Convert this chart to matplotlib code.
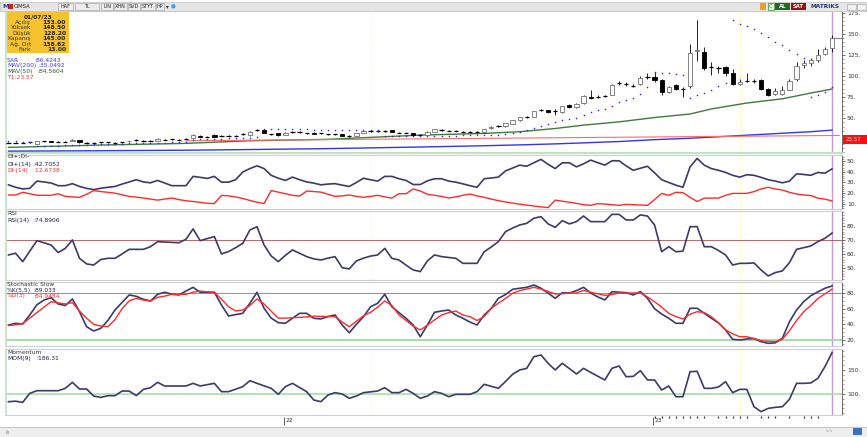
import numpy as np
import matplotlib.pyplot as plt
from matplotlib.patches import Rectangle
from matplotlib.colors import LinearSegmentedColormap
from matplotlib.ticker import MultipleLocator, FuncFormatter

W, H = 867, 437

# Weekly CIMSA bars
# ---------------------------------------------------------------
opens = [21.2, 21.0, 21.2, 21.0, 19.8, 22.5, 22.8, 22.2, 22.0, 23.5,
         24.0, 21.3, 21.0, 21.5, 21.8, 21.2, 21.0, 22.5, 23.8, 23.2,
         23.0, 23.0, 24.8, 24.7, 24.8, 25.3, 26.0, 29.2, 28.0, 30.0,
         29.0, 29.2, 29.0, 30.8, 30.0, 35.8, 36.0, 31.2, 32.0, 30.0,
         33.3, 33.7, 32.2, 33.0, 31.8, 31.0, 31.2, 31.0, 29.0, 29.0,
         33.0, 34.0, 34.5, 35.0, 36.0, 33.2, 32.8, 32.0, 30.0, 30.3,
         34.0, 36.2, 35.3, 35.5, 34.3, 33.7, 33.5, 33.5, 38.0, 40.3,
         40.5, 43.5, 47.6, 51.3, 51.5, 59.0, 59.4, 58.4, 57.0, 66.0,
         63.0, 67.5, 75.0, 75.5, 76.0, 78.0, 91.0, 90.2, 88.3, 90.0,
         98.6, 99.0, 95.0, 80.5, 89.0, 85.2, 88.0, 129.5, 129.0, 110.0,
         110.0, 111.0, 104.0, 91.0, 94.5, 94.0, 95.0, 85.0, 78.5, 78.5,
         84.0, 96.0, 112.5, 115.0, 119.0, 126.0, 133.0]
highs = [21.8, 21.8, 21.8, 21.8, 23.0, 23.5, 23.2, 22.6, 22.8, 24.8,
         24.5, 21.8, 21.7, 22.3, 22.3, 21.7, 21.8, 23.6, 24.8, 23.8,
         23.7, 26.0, 25.3, 25.4, 25.3, 26.2, 30.8, 30.0, 28.8, 30.8,
         29.8, 29.8, 29.9, 32.0, 34.8, 37.0, 36.8, 31.8, 32.6, 33.6,
         34.3, 34.3, 32.8, 33.6, 32.7, 31.8, 31.8, 31.6, 29.6, 33.0,
         35.0, 35.2, 35.6, 35.6, 36.6, 33.8, 33.4, 32.6, 30.9, 34.6,
         37.8, 37.0, 36.0, 36.2, 35.0, 34.4, 34.4, 37.6, 40.8, 41.5,
         44.8, 48.4, 51.8, 52.8, 58.8, 61.5, 60.3, 60.5, 64.8, 67.0,
         67.5, 77.0, 84.0, 77.5, 77.8, 90.0, 93.5, 92.5, 90.5, 99.5,
         104.0, 104.5, 96.0, 88.0, 91.0, 86.5, 138.0, 166.0, 134.0, 116.0,
         112.0, 112.0, 108.0, 96.0, 103.0, 96.0, 96.0, 86.0, 86.0, 88.0,
         96.0, 116.0, 119.0, 121.0, 132.0, 134.0, 148.5]
lows = [20.5, 20.5, 20.5, 20.5, 19.2, 22.0, 21.7, 21.5, 21.5, 23.0,
        21.0, 20.5, 20.5, 21.0, 21.0, 20.5, 20.5, 22.0, 23.3, 22.5,
        22.5, 22.6, 24.0, 24.2, 24.0, 24.8, 25.6, 27.4, 27.4, 27.6,
        28.4, 28.4, 28.5, 30.3, 29.5, 35.0, 32.0, 30.4, 29.5, 29.6,
        32.8, 32.8, 31.3, 31.0, 31.3, 30.4, 30.4, 28.6, 28.2, 28.6,
        32.6, 33.5, 34.0, 34.0, 33.5, 32.5, 32.0, 29.5, 29.6, 29.8,
        33.5, 35.4, 34.6, 34.4, 33.6, 33.0, 33.0, 33.0, 37.5, 39.8,
        40.0, 43.0, 47.0, 50.6, 51.0, 58.0, 56.3, 54.0, 56.5, 62.3,
        62.5, 67.0, 73.0, 74.5, 75.0, 77.5, 89.5, 88.5, 86.5, 89.5,
        97.0, 93.0, 77.0, 80.0, 83.0, 75.0, 86.0, 118.0, 107.0, 101.0,
        103.0, 100.0, 89.0, 89.0, 93.0, 92.0, 84.0, 76.0, 78.0, 78.0,
        83.0, 94.0, 110.0, 112.0, 117.0, 125.0, 128.2]
closes = [21.0, 21.2, 21.0, 21.3, 22.5, 23.0, 22.2, 22.0, 22.3, 24.2,
          21.5, 21.0, 21.2, 21.8, 21.6, 21.0, 21.3, 23.2, 24.2, 23.0,
          23.2, 25.5, 24.5, 24.9, 24.6, 25.7, 30.0, 28.0, 28.1, 28.2,
          29.2, 29.0, 29.3, 31.2, 34.0, 36.2, 32.7, 31.0, 30.0, 33.0,
          33.7, 33.4, 31.9, 31.5, 32.1, 31.2, 31.0, 29.0, 28.8, 32.5,
          34.5, 34.5, 35.0, 34.7, 34.0, 33.0, 32.6, 30.0, 30.3, 34.0,
          37.0, 36.0, 35.0, 35.0, 34.0, 33.5, 33.8, 37.0, 40.0, 40.8,
          44.0, 47.6, 51.0, 51.8, 58.0, 59.3, 57.0, 58.6, 64.0, 63.0,
          66.5, 76.0, 74.0, 75.7, 76.3, 89.0, 91.3, 90.0, 88.0, 98.0,
          98.9, 95.0, 81.0, 86.5, 85.0, 85.0, 127.0, 130.5, 110.0, 110.5,
          109.5, 103.0, 91.0, 93.0, 94.0, 93.5, 85.0, 78.0, 82.5, 83.0,
          93.5, 112.0, 115.5, 118.5, 125.0, 132.5, 145.0]
sar = [22.8, 22.6, 22.4, 22.2, 17.0, 17.2, 17.4, 17.6, 17.8, 18.0,
       18.3, 18.6, 18.9, 19.2, 19.5, 19.8, 20.0, 20.2, 20.4, 20.6,
       20.8, 21.0, 21.2, 21.4, 21.6, 21.8, 24.5, 24.8, 25.0, 25.3,
       25.6, 26.0, 26.3, 26.6, 27.0, 27.5, 37.5, 37.4, 37.2, 37.0,
       36.9, 36.8, 36.7, 36.6, 36.5, 36.4, 36.3, 36.2, 36.1, 36.0,
       36.0, 35.9, 35.9, 28.5, 28.6, 28.7, 28.8, 28.9, 29.0, 29.1,
       29.2, 29.3, 29.4, 29.5, 29.6, 29.7, 29.8, 30.0, 30.3, 30.6,
       30.8, 32.0, 33.9, 36.0, 38.5, 41.0, 43.7, 45.8, 48.0, 49.5,
       50.8, 53.6, 57.4, 59.4, 61.4, 64.0, 69.0, 72.0, 74.0, 79.0,
       86.8, 104.5, 104.0, 103.0, 102.0, 101.0, 74.0, 77.0, 80.0, 83.7,
       87.6, 91.5, 166.0, 162.0, 159.0, 156.0, 151.5, 146.5, 140.0, 136.7,
       130.8, 126.0, 121.4, 75.0, 78.0, 81.4, 86.4]

# moving averages / trend line, read at a few bars
ma_bars = [0, 13, 25, 34, 45, 58, 67, 72, 77, 81, 86, 91, 96, 99, 104, 109, 113, 116]
mav50 = [15.5, 18.2, 20.2, 23.3, 25.0, 30.0, 32.0, 34.0, 37.8, 41.8, 45.7, 50.8,
         55.0, 61.0, 68.0, 73.0, 79.8, 84.6]
mav200 = [11.0, 11.5, 12.1, 12.9, 14.0, 15.9, 17.4, 18.4, 19.6, 20.8, 22.4, 24.6,
          26.3, 27.6, 29.9, 32.2, 34.0, 35.9]
t1_bars = [25, 117]
t1_vals = [23.3, 29.6]

# indicators
di_plus = [27.8, 25.5, 24.0, 24.5, 31.3, 30.5, 29.5, 27.0, 27.0, 28.9,
           26.3, 24.5, 23.3, 24.6, 25.5, 26.3, 28.5, 30.5, 32.6, 30.5,
           29.7, 31.9, 29.5, 27.0, 27.0, 27.0, 35.7, 34.8, 33.8, 35.7,
           30.3, 30.3, 32.6, 39.8, 43.0, 45.6, 43.0, 36.7, 34.0, 31.9,
           35.0, 32.6, 30.5, 29.4, 27.8, 28.5, 28.9, 27.5, 26.3, 30.0,
           34.0, 32.5, 31.3, 35.7, 35.7, 33.5, 31.9, 28.1, 28.1, 31.5,
           33.5, 33.5, 31.3, 30.3, 28.7, 27.0, 25.5, 33.5, 34.2, 35.0,
           40.8, 43.5, 46.2, 45.2, 48.5, 51.6, 47.0, 43.0, 48.4, 48.4,
           44.6, 47.5, 50.9, 48.5, 46.2, 50.3, 50.3, 45.5, 41.4, 43.3,
           45.2, 39.0, 32.6, 30.0, 27.5, 25.5, 44.6, 52.5, 46.2, 43.0,
           41.4, 39.4, 36.7, 35.0, 37.3, 36.7, 34.8, 32.6, 31.3, 29.7,
           31.3, 38.1, 37.5, 36.7, 39.4, 38.7, 42.7]
di_minus = [18.3, 18.3, 20.8, 19.5, 18.0, 18.0, 18.0, 19.5, 17.0, 16.5,
            16.1, 19.0, 22.4, 21.5, 20.8, 20.0, 18.5, 17.0, 16.3, 15.5,
            14.5, 13.5, 14.5, 15.4, 14.0, 12.9, 12.2, 11.5, 10.5, 10.3,
            18.0, 17.5, 16.5, 15.0, 13.2, 11.5, 10.3, 22.4, 21.0, 19.5,
            18.0, 17.3, 22.0, 21.5, 21.0, 19.0, 17.0, 17.5, 18.3, 17.0,
            16.1, 17.0, 18.0, 16.5, 15.4, 19.5, 19.5, 24.0, 22.0, 19.0,
            18.0, 17.0, 15.5, 16.5, 18.0, 19.2, 17.5, 16.1, 14.5, 13.0,
            11.8, 10.7, 9.7, 8.8, 8.0, 7.2, 6.5, 13.5, 12.5, 11.5,
            10.5, 9.2, 8.6, 10.3, 9.8, 9.2, 8.6, 9.5, 9.2, 8.9,
            8.6, 14.0, 19.8, 18.0, 20.8, 20.5, 16.1, 12.2, 15.4, 15.4,
            15.4, 18.0, 19.8, 19.8, 19.8, 21.5, 24.0, 25.5, 24.0, 22.9,
            20.8, 19.2, 18.3, 17.8, 15.4, 14.4, 12.7]
rsi = [59.3, 60.5, 54.5, 62.0, 69.5, 68.0, 66.4, 61.0, 64.0, 70.0,
       56.9, 52.9, 52.1, 56.0, 56.9, 56.9, 60.0, 63.3, 63.3, 63.3,
       65.2, 68.8, 68.5, 68.3, 68.0, 70.5, 77.9, 69.5, 71.0, 72.4,
       60.0, 61.7, 64.5, 67.6, 77.1, 79.5, 66.4, 58.6, 54.5, 59.0,
       62.9, 60.5, 58.1, 56.5, 55.7, 57.0, 58.1, 50.2, 49.3, 55.0,
       57.0, 58.5, 59.3, 64.0, 56.9, 55.7, 52.0, 48.6, 47.4, 55.0,
       59.3, 58.1, 57.5, 56.9, 53.3, 53.3, 53.3, 61.6, 65.0, 68.8,
       75.9, 78.5, 80.7, 81.9, 85.5, 86.7, 81.5, 79.0, 83.8, 81.5,
       83.1, 87.1, 83.1, 83.1, 83.1, 88.3, 88.3, 84.3, 84.3, 87.9,
       87.1, 80.7, 61.6, 65.2, 61.6, 62.0, 79.5, 79.5, 65.2, 65.2,
       62.5, 59.3, 52.1, 53.3, 53.3, 53.6, 48.6, 44.3, 46.7, 47.9,
       53.8, 63.3, 64.5, 65.7, 68.8, 71.2, 74.9]
stoch_k = [39.2, 41.4, 40.5, 52.0, 65.0, 71.0, 74.0, 66.0, 64.0, 72.4,
           56.2, 37.1, 31.6, 35.0, 45.0, 58.3, 68.0, 77.5, 75.8, 72.0,
           69.8, 78.3, 80.9, 78.5, 77.5, 82.5, 87.2, 80.9, 80.9, 80.9,
           64.7, 50.7, 52.5, 54.1, 66.9, 80.9, 60.5, 48.0, 42.2, 41.4,
           48.0, 54.1, 54.1, 47.8, 47.0, 50.0, 52.0, 39.2, 29.4, 40.0,
           49.8, 62.5, 66.9, 78.3, 62.5, 55.0, 47.8, 39.2, 24.3, 39.2,
           55.4, 57.1, 58.3, 52.0, 47.8, 43.0, 39.2, 52.0, 60.5, 73.2,
           78.0, 84.7, 86.0, 87.2, 90.2, 86.0, 80.0, 73.2, 80.4, 80.0,
           83.0, 87.2, 80.0, 75.0, 71.1, 81.7, 81.0, 80.4, 77.5, 81.7,
           73.2, 60.0, 53.2, 47.8, 41.4, 41.4, 60.5, 60.5, 54.1, 47.8,
           42.0, 33.0, 21.0, 20.1, 21.5, 22.0, 18.0, 15.9, 16.5, 22.3,
           43.4, 58.3, 68.9, 76.5, 81.5, 86.0, 89.0]
stoch_d = [38.5, 39.5, 41.0, 48.0, 55.0, 62.0, 68.9, 67.5, 66.0, 67.7,
           57.0, 48.0, 40.0, 38.0, 37.1, 46.0, 60.0, 70.0, 73.2, 71.0,
           69.8, 74.5, 76.0, 78.3, 78.3, 78.3, 81.0, 82.5, 81.5, 80.9,
           72.0, 62.5, 57.1, 58.3, 64.0, 72.4, 66.0, 57.0, 48.0, 48.0,
           48.5, 49.0, 49.5, 50.5, 50.2, 50.0, 49.8, 43.0, 37.1, 44.0,
           51.0, 55.4, 62.0, 69.8, 64.0, 52.0, 45.0, 38.0, 32.9, 39.0,
           45.6, 52.0, 55.0, 57.1, 52.0, 49.8, 45.0, 50.0, 60.5, 67.0,
           73.0, 79.6, 83.0, 85.0, 87.2, 85.0, 82.0, 78.7, 79.0, 80.0,
           80.0, 83.3, 81.0, 79.0, 77.0, 78.0, 80.0, 80.0, 80.0, 80.0,
           75.0, 68.9, 62.0, 54.1, 50.0, 47.0, 53.0, 56.2, 55.0, 49.8,
           42.0, 33.0, 28.0, 24.3, 24.3, 22.0, 19.3, 18.5, 18.0, 21.0,
           32.0, 45.0, 56.0, 64.0, 73.0, 79.0, 84.9]
momentum = [84.0, 85.0, 82.6, 101.4, 106.9, 106.9, 106.9, 106.9, 111.8, 124.3,
            110.4, 110.4, 95.8, 93.0, 96.5, 96.5, 106.2, 106.2, 96.5, 109.7,
            113.2, 124.3, 116.7, 116.7, 116.7, 116.7, 122.2, 116.7, 119.5, 122.2,
            104.9, 104.9, 110.0, 115.3, 127.8, 122.2, 117.0, 111.8, 99.3, 115.3,
            122.2, 113.5, 104.9, 87.5, 84.0, 97.9, 102.8, 100.0, 91.0, 95.8,
            102.8, 104.5, 106.2, 113.2, 102.8, 102.8, 109.7, 101.4, 91.0, 95.8,
            104.9, 101.4, 94.4, 99.3, 99.3, 99.3, 105.0, 120.2, 116.0, 111.8,
            126.0, 141.0, 150.0, 153.5, 177.7, 181.3, 164.0, 150.0, 164.0, 153.0,
            141.7, 153.5, 145.0, 137.0, 129.2, 153.5, 158.3, 136.0, 136.7, 148.6,
            129.2, 129.2, 108.3, 116.7, 94.4, 94.4, 146.5, 147.2, 111.8, 111.8,
            114.6, 125.7, 102.8, 109.7, 109.7, 73.6, 63.2, 70.1, 72.2, 73.6,
            89.0, 122.2, 122.2, 123.0, 132.6, 156.9, 186.3]

marker_bars = [51, 103]      # yellow dotted verticals
year_bars = [39, 91]
year_labels = ['22', '23']
day_tick_bars = [91, 92, 93, 94, 95, 96, 97, 98, 100, 101, 102, 103, 104,
                 106, 107, 108, 110, 112, 113, 114]

bars = np.arange(len(closes))
last = bars[-1]

NAVY = '#3b3b6b'
RED = '#ff2a2a'
XLIM = (-0.35, 117.4)

fig = plt.figure(figsize=(W / 100, H / 100), dpi=100)
fig.patch.set_facecolor('white')


def frect(x0, y0, x1, y1, **kw):
    fig.add_artist(Rectangle((x0 / W, 1 - y1 / H), (x1 - x0) / W, (y1 - y0) / H,
                             transform=fig.transFigure, **kw))


def ftext(x, y, s, **kw):
    kw.setdefault('fontsize', 4.3)
    kw.setdefault('va', 'center')
    fig.text(x / W, 1 - y / H, s, **kw)


def panel(top, bottom, ylim, ticks, minor):
    ax = fig.add_axes([6 / W, 1 - bottom / H, (842 - 6) / W, (bottom - top) / H])
    ax.set_xlim(*XLIM)
    ax.set_ylim(*ylim)
    ax.set_xticks([])
    ax.yaxis.tick_right()
    ax.set_yticks(ticks)
    ax.yaxis.set_minor_locator(MultipleLocator(minor))
    ax.yaxis.set_major_formatter(FuncFormatter(lambda v, p: f"{v:.0f}."))
    ax.tick_params(axis='y', which='major', length=2.5, width=0.5, labelsize=4.3,
                   pad=1, colors='#333333')
    ax.tick_params(axis='y', which='minor', length=1.2, width=0.4, colors='#555555')
    ax.spines['left'].set_color('#bfe3bf')
    ax.spines['left'].set_linewidth(1.2)
    ax.spines['right'].set_color('#555555')
    ax.spines['right'].set_linewidth(0.6)
    for s in ('top', 'bottom'):
        ax.spines[s].set_color('#cfcfcf')
        ax.spines[s].set_linewidth(0.8)
    for b in marker_bars:
        ax.axvline(b, color='#ffff88', lw=0.8, ls=':', zorder=1)
    ax.axvline(last, color='#c497d6', lw=1.0, zorder=1)
    return ax


# Price panel
# ---------------------------------------------------------------
ax = panel(11, 153, (8.8, 177), [50, 75, 100, 125, 150, 175], 5)
ax.spines['bottom'].set_color('#bfe3bf')
ax.spines['bottom'].set_linewidth(1.5)
ax.plot(ma_bars, mav200, color='#3535e8', lw=1.0, zorder=2)
ax.plot(ma_bars, mav50, color='#3f7a3f', lw=1.0, zorder=2)
ax.plot(t1_bars, t1_vals, color='#ff6a6a', lw=0.8, zorder=2)
for i in bars:
    o, h, l, c = opens[i], highs[i], lows[i], closes[i]
    ax.vlines(i, l, h, color='black', lw=0.6, zorder=3)
    if abs(c - o) < 0.6:
        ax.hlines(c, i - 0.3, i + 0.3, color='black', lw=0.9, zorder=4)
    else:
        up = c > o
        ax.add_patch(Rectangle((i - 0.3, min(o, c)), 0.6, abs(c - o),
                               facecolor='white' if up else 'black',
                               edgecolor='#707070' if up else 'black',
                               lw=0.6, zorder=4))
ax.scatter(bars, sar, s=1.3, color='#2a2aff', linewidths=0, zorder=5)
ax.hlines(closes[-1], last, XLIM[1], color='#8a78c8', lw=0.8, zorder=2)

# DI panel
ax = panel(155, 209, (5.2, 55.7), [10, 20, 30, 40, 50], 2)
ax.plot(bars, di_plus, color=NAVY, lw=1.2)
ax.plot(bars, di_minus, color=RED, lw=1.0)

# RSI panel
ax = panel(211, 280, (41.4, 90.7), [50, 60, 70, 80], 2)
ax.axhline(70, color='#b05050', lw=0.6)
ax.plot(bars, rsi, color=NAVY, lw=1.2)

# Stochastic panel
ax = panel(282, 346, (12.5, 94), [20, 40, 60, 80], 5)
ax.axhline(80, color='#c06060', lw=0.6)
ax.axhline(20, color='#a9dca9', lw=1.5)
ax.plot(bars, stoch_k, color=NAVY, lw=1.2)
ax.plot(bars, stoch_d, color=RED, lw=1.0)

# Momentum panel
ax = panel(349, 415, (56.3, 193.7), [100, 150], 10)
ax.axhline(100, color='#a9dca9', lw=1.2)
ax.plot(bars, momentum, color=NAVY, lw=1.2)

# date strip
axd = fig.add_axes([6 / W, 1 - 427 / H, (842 - 6) / W, 12 / H])
axd.set_xlim(*XLIM)
axd.set_ylim(0, 1)
axd.axis('off')
for b, lab in zip(year_bars, year_labels):
    axd.vlines(b - 0.2, 0.2, 0.8, color='#444444', lw=0.6)
    axd.text(b, 0.5, lab, fontsize=4.3, va='center', color='#333333')
axd.vlines(day_tick_bars, 0.72, 0.95, color='#333333', lw=0.9)

frect(0, 427, W, H, facecolor='#eeeeee', edgecolor='none')
fig.add_artist(plt.Line2D([0, 1], [1 - 427 / H] * 2, color='#c8c8c8', lw=0.8,
                          transform=fig.transFigure))
ftext(6, 432, 'ılı', fontsize=3.5, color='#777777')
ftext(826, 431, 'ılıılı', fontsize=3, color='#999999')
frect(853, 428, 862, 435, facecolor='#3d6fc4', edgecolor='none')

# top toolbar
# ---------------------------------------------------------------
frect(0, 2, W, 10.5, facecolor='#e6e6e6', edgecolor='#c0c0c0', lw=0.5)
ftext(2, 6.3, 'M', fontsize=4.5, color='#1e3c8c', weight='bold')
frect(8, 3.5, 12.5, 8.5, facecolor='#d02020', edgecolor='none')
ftext(13.5, 6.3, 'CIMSA', fontsize=3.8, color='#222222')
for x0, x1, lab in [(58, 73, 'HAF'), (75, 99, 'TL'), (101, 113, 'LIN'),
                    (114, 127, 'XHN'), (128, 140, 'SVD'), (141, 155, 'STYT'),
                    (156, 164, 'HP')]:
    frect(x0, 3, x1, 9.5, facecolor='#ececec', edgecolor='#9a9a9a', lw=0.4)
    ftext((x0 + x1) / 2, 6.3, lab, fontsize=3.5, color='#222222', ha='center')
ftext(167, 6.3, '▾', fontsize=4, color='#333333', ha='center')
ftext(173, 6.3, '●', fontsize=4, color='#3aa0e8', ha='center')
axg = fig.add_axes([178 / W, 1 - 9.5 / H, (757 - 178) / W, 6.5 / H])
axg.imshow(np.linspace(0, 1, 256)[None, :], aspect='auto',
           cmap=LinearSegmentedColormap.from_list(
               'tb', ['#0c0c0c', '#2e2e2e', '#7a7a7a', '#d8d8d8']))
axg.axis('off')
frect(760, 3, 766, 9.5, facecolor='#f0a020', edgecolor='none')
frect(767.5, 3, 773.5, 9.5, facecolor='#e8f5e8', edgecolor='#2e8b2e', lw=0.5)
ftext(770.5, 6.3, 'C', fontsize=3.5, color='#2e8b2e', ha='center')
frect(775, 3, 790, 9.5, facecolor='#1f6e1f', edgecolor='none')
ftext(782.5, 6.3, 'AL', fontsize=3.8, color='white', ha='center', weight='bold')
frect(791, 3, 806, 9.5, facecolor='#9a1010', edgecolor='none')
ftext(798.5, 6.3, 'SAT', fontsize=3.8, color='white', ha='center', weight='bold')
ftext(825, 6.3, 'MATRIKS', fontsize=4.2, color='#2a3570', ha='center', weight='bold')
frect(847, 3.5, 856, 9.5, facecolor='#f2f2f2', edgecolor='#9a9a9a', lw=0.4)
frect(857, 3.5, 866, 9.5, facecolor='#f2f2f2', edgecolor='#9a9a9a', lw=0.4)

# legend box (last bar summary)
# ---------------------------------------------------------------
frect(7, 12.5, 68.5, 52.5, facecolor='#f7c22f', edgecolor='none')
ftext(38, 16.7, '01/07/23', fontsize=4.2, color='#222222', ha='center', weight='bold')
rows = [('Açılış', '133.00'), ('Yüksek', '148.50'), ('Düşük', '128.20'),
        ('Kapanış', '145.00'), ('Ağ. Ort', '138.62'), ('Fark', '13.00')]
for k, (lab, val) in enumerate(rows):
    y = 22.2 + k * 5.5
    ftext(31, y, lab, ha='right', color='#3a3a3a')
    ftext(66, y, val, ha='right', color='#222222', weight='bold')

ftext(7, 60, 'SAR', color='#3a3aff')
ftext(34, 60, ':86.4243', color='#3a3aff')
ftext(7, 65.7, 'MAV(200)', color='#3a3aff')
ftext(38, 65.7, ':35.0492', color='#3a3aff')
ftext(7, 71.3, 'MAV(50)', color='#2f5f2f')
ftext(37, 71.3, ':84.5604', color='#2f5f2f')
ftext(7, 77.3, 'T1:23.57', color='#ff3030')

ftext(7, 156.5, 'DI+;DI-', color='#333333')
ftext(7, 164.7, 'DI+(14)', color='#202050')
ftext(33, 164.7, ':42.7052', color='#202050')
ftext(7, 170.7, 'DI-(14)', color=RED)
ftext(33, 170.7, ':12.6738', color=RED)

ftext(7, 213.5, 'RSI', color='#333333')
ftext(7, 220.5, 'RSI(14)', color='#202050')
ftext(33, 220.5, ':74.8906', color='#202050')

ftext(7, 285, 'Stochastic Slow', color='#333333')
ftext(7, 290.5, '%K(5,5)', color='#202050')
ftext(33, 290.5, ':89.033', color='#202050')
ftext(7, 296, '%D(3)', color=RED)
ftext(33, 296, ':84.9484', color=RED)

ftext(7, 352.7, 'Momentum', color='#333333')
ftext(7, 358.3, 'MOM(9)', color='#202050')
ftext(36, 358.3, ':186.31', color='#202050')

# T1 value tag on the price axis
frect(843, 135, 867, 144, facecolor='#ff1010', edgecolor='none')
ftext(846, 139.5, '23.57', fontsize=4, color='#ffdddd')

fig.savefig('out.png', dpi=100)
